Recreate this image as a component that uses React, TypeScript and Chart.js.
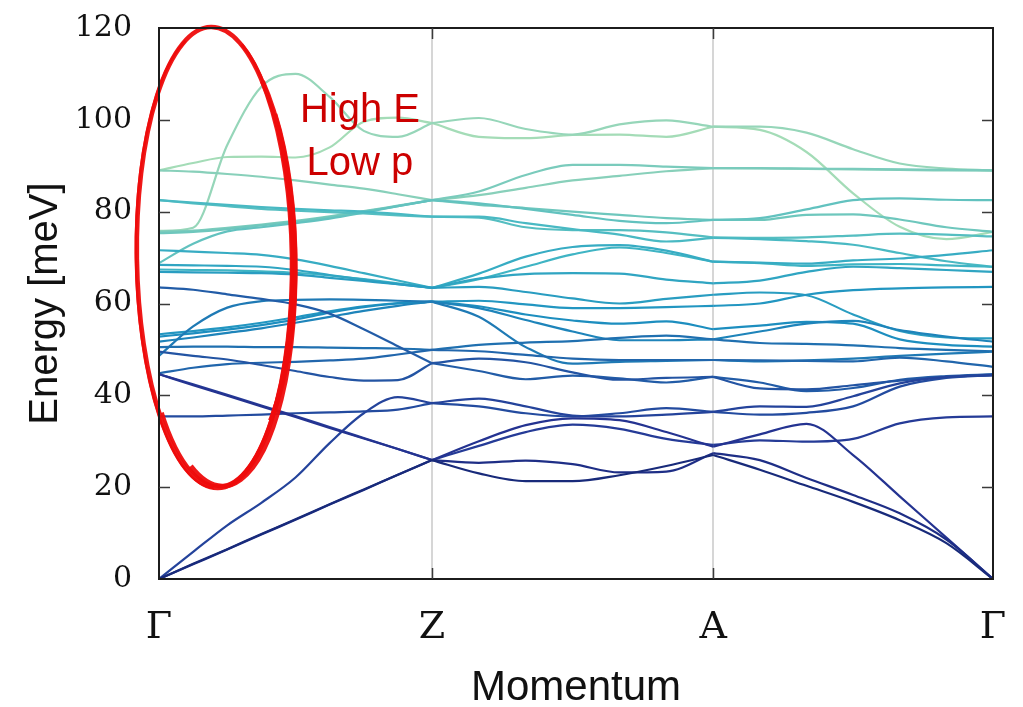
import React, { useEffect, useRef } from "react";
import { Chart, registerables } from "chart.js";

Chart.register(...registerables);

// Path coordinate (Γ → Z → A → Γ), sampled grid shared by all bands
const kGrid = [
  0, 0.125, 0.25, 0.375, 0.5, 0.625, 0.75, 0.875, 1.0,
  1.1717, 1.3433, 1.515, 1.6867, 1.8583, 2.03,
  2.2008, 2.3717, 2.5425, 2.7133, 2.8842, 3.055,
];
const tickPositions = [0, 1.0, 2.03, 3.055];
const tickLabels = ["Γ", "Z", "A", "Γ"];
const yMin = 0;
const yMax = 120;
const yStep = 20;

// Energies in meV at kGrid (index 8 = Z, index 14 = A)
const band01 = [0, 3.3, 6.5, 9.8, 13.0, 16.3, 19.5, 22.7, 25.9, 23.0, 21.3, 21.3, 22.6, 24.6, 27.0, 23.8, 20.3, 16.8, 12.8, 7.8, 0];
const band02 = [0, 3.2, 6.4, 9.7, 12.9, 16.2, 19.4, 22.7, 25.9, 25.3, 25.8, 25.0, 23.2, 23.4, 27.4, 25.9, 22.0, 18.3, 14.3, 8.6, 0];
const band03 = [44.6, 42.2, 39.9, 37.6, 35.3, 32.9, 30.6, 28.3, 25.9, 30.0, 33.5, 35.0, 34.6, 32.0, 28.8, 31.5, 33.8, 27.0, 18.0, 9.0, 0];
const band04 = [44.6, 42.4, 40.1, 37.8, 35.5, 33.1, 30.7, 28.3, 25.9, 29.0, 32.0, 33.6, 32.7, 30.5, 29.2, 30.2, 29.9, 30.5, 33.9, 35.2, 35.4];
const band05 = [0, 5.9, 11.7, 16.6, 22.1, 29.6, 36.1, 39.6, 38.3, 39.3, 37.6, 35.6, 35.4, 35.8, 36.4, 37.6, 37.5, 39.8, 42.6, 44.0, 44.4];
const band06 = [35.4, 35.4, 35.6, 35.8, 36.1, 36.3, 36.5, 36.9, 38.3, 37.6, 36.1, 35.4, 36.1, 37.2, 36.4, 35.8, 36.2, 37.6, 41.9, 43.8, 44.4];
const band07 = [49.5, 48.6, 47.8, 46.6, 45.3, 44.0, 43.2, 43.3, 47.0, 48.0, 47.2, 45.0, 43.4, 43.8, 44.0, 41.5, 41.3, 42.2, 43.2, 44.0, 44.4];
const band08 = [63.5, 63.0, 62.0, 61.0, 59.8, 57.8, 54.4, 50.7, 47.0, 45.3, 43.5, 44.3, 43.7, 42.8, 44.0, 42.8, 40.9, 41.6, 43.4, 44.2, 44.6];
const band09 = [44.8, 46.0, 46.8, 47.1, 47.3, 47.6, 48.0, 48.9, 49.9, 49.6, 48.8, 48.0, 47.7, 47.7, 47.7, 47.6, 47.5, 47.4, 48.2, 47.4, 46.2];
const band10 = [50.5, 50.6, 50.6, 50.5, 50.5, 50.4, 50.3, 50.2, 49.9, 51.0, 51.5, 51.8, 52.5, 53.0, 52.2, 51.4, 51.2, 50.9, 50.3, 49.9, 49.6];
const band11 = [48.6, 55.0, 59.1, 60.5, 60.8, 60.9, 60.8, 60.6, 60.4, 57.1, 50.5, 46.9, 47.3, 47.5, 47.7, 47.4, 47.6, 48.0, 48.6, 49.1, 49.5];
const band12 = [51.7, 52.6, 53.6, 54.6, 55.8, 57.1, 58.4, 59.5, 60.4, 59.0, 56.4, 53.9, 52.0, 52.0, 52.2, 53.9, 55.6, 56.2, 54.2, 52.8, 51.7];
const band13 = [52.8, 53.5, 54.3, 55.3, 56.5, 58.0, 59.2, 60.0, 60.4, 59.4, 57.6, 56.3, 55.6, 56.1, 54.4, 55.2, 56.0, 55.6, 52.2, 51.0, 50.6];
const band14 = [53.3, 54.0, 54.8, 55.8, 57.0, 58.3, 59.4, 60.1, 60.4, 60.6, 59.8, 59.0, 59.0, 59.2, 59.5, 60.0, 61.9, 62.9, 63.3, 63.5, 63.6];
const band15 = [66.9, 66.8, 66.7, 66.6, 66.3, 65.6, 64.9, 64.2, 63.4, 63.6, 62.5, 61.1, 60.0, 61.0, 61.9, 62.4, 61.8, 57.6, 54.0, 52.6, 52.4];
const band16 = [68.4, 68.3, 68.2, 68.0, 67.3, 66.2, 65.2, 64.2, 63.4, 65.4, 66.4, 66.6, 66.5, 65.2, 64.4, 65.0, 66.9, 68.0, 67.7, 67.3, 66.9];
const band17 = [71.6, 71.3, 71.0, 70.6, 69.6, 68.2, 66.6, 65.0, 63.4, 66.5, 70.2, 72.3, 72.7, 71.5, 69.1, 68.9, 68.7, 69.4, 69.8, 70.6, 71.6];
const band18 = [67.4, 67.3, 67.2, 67.0, 66.7, 66.1, 65.3, 64.4, 63.4, 65.3, 68.0, 70.7, 72.2, 71.0, 69.1, 68.8, 68.2, 68.5, 68.6, 68.3, 68.0];
const band19 = [82.5, 82.0, 81.5, 81.0, 80.6, 80.3, 80.0, 79.5, 78.9, 78.9, 77.5, 76.2, 75.0, 73.5, 74.3, 74.0, 73.6, 72.8, 71.0, 69.2, 68.0];
const band20 = [82.5, 81.8, 81.2, 80.6, 80.2, 79.9, 79.6, 79.2, 78.9, 78.7, 76.6, 76.0, 76.0, 75.5, 74.4, 74.3, 74.4, 74.8, 75.2, 75.0, 74.6];
const band21 = [68.8, 73.0, 75.7, 76.6, 77.5, 78.5, 79.8, 81.2, 82.5, 81.8, 80.6, 79.3, 78.0, 77.5, 78.2, 78.6, 80.5, 82.5, 82.9, 82.6, 82.5];
const band22 = [75.3, 75.6, 76.2, 77.0, 77.8, 78.8, 80.0, 81.2, 82.5, 81.5, 80.8, 80.0, 79.3, 78.6, 78.2, 78.2, 79.3, 79.4, 78.3, 76.6, 75.6];
const band23 = [75.6, 75.9, 76.5, 77.2, 78.0, 79.0, 80.1, 81.3, 82.5, 84.4, 88.0, 90.2, 90.2, 89.8, 89.5, 89.5, 89.4, 89.3, 89.2, 89.1, 89.0];
const band24 = [89.0, 88.7, 88.2, 87.6, 86.8, 85.9, 85.0, 83.8, 82.5, 83.6, 85.2, 86.8, 87.8, 88.8, 89.5, 89.4, 89.3, 89.2, 89.1, 89.0, 89.0];
const band25 = [75.8, 76.5, 94.5, 107.2, 110.0, 105.0, 97.6, 96.3, 99.3, 100.4, 98.0, 96.8, 99.0, 99.9, 98.5, 98.5, 97.2, 93.6, 90.5, 89.4, 89.0];
const band26 = [89.0, 90.6, 91.9, 92.0, 91.8, 94.0, 99.6, 100.5, 99.3, 96.3, 96.0, 96.7, 96.8, 96.3, 98.5, 97.8, 93.0, 84.0, 76.7, 74.0, 75.6];

const bands = [
  band01, band02, band03, band04, band05, band06, band07, band08, band09, band10,
  band11, band12, band13, band14, band15, band16, band17, band18, band19, band20,
  band21, band22, band23, band24, band25, band26,
];
// path segments as index ranges into kGrid: Γ-Z, Z-A, A-Γ
const segments = [[0, 8], [8, 14], [14, 20]];

// Annotation (hand-drawn ellipse + text), in data units
const ellipseCenter = [0.203, 70.0];
const ellipseHalfK = 0.284;
const ellipseHalfE = 50.2;
const noteLines = ["High E", "Low p"];
const noteK = 0.736;
const noteE = [99.5, 88.0];

const ylgnbu = ["#ffffd9", "#edf8b1", "#c7e9b4", "#7fcdbb", "#41b6c4", "#1d91c0", "#225ea8", "#253494", "#081d58"];

function hexToRgb(h: string) {
  const n = parseInt(h.slice(1), 16);
  return [(n >> 16) & 255, (n >> 8) & 255, n & 255];
}
function cmap(t: number) {
  const n = ylgnbu.length - 1;
  const p = Math.max(0, Math.min(1, t)) * n;
  const i = Math.min(n - 1, Math.floor(p));
  const f = p - i;
  const a = hexToRgb(ylgnbu[i]);
  const b = hexToRgb(ylgnbu[i + 1]);
  const c = a.map((v, j) => Math.round(v + (b[j] - v) * f));
  return `rgb(${c[0]},${c[1]},${c[2]})`;
}

const overlayPlugin = {
  id: "overlay",
  afterDatasetsDraw(chart: any) {
    const { ctx, chartArea, scales } = chart;
    const { left, right, top, bottom } = chartArea;
    const x = scales.x;
    const y = scales.y;
    ctx.save();

    // red hand-drawn ellipse (several overlapping strokes)
    const cx = x.getPixelForValue(ellipseCenter[0]);
    const cy = y.getPixelForValue(ellipseCenter[1]);
    const rx = x.getPixelForValue(ellipseCenter[0] + ellipseHalfK) - cx;
    const ry = cy - y.getPixelForValue(ellipseCenter[1] + ellipseHalfE);
    ctx.strokeStyle = "rgba(238,12,12,0.95)";
    ctx.lineWidth = 4.5;
    ctx.beginPath();
    ctx.ellipse(cx, cy, rx, ry, -0.015, 0, Math.PI * 2);
    ctx.stroke();
    ctx.lineWidth = 5;
    ctx.beginPath();
    ctx.ellipse(cx + 4, cy + 2, rx - 1, ry - 4, -0.02, -0.9, 2.0);
    ctx.stroke();
    ctx.lineWidth = 5;
    ctx.beginPath();
    ctx.ellipse(cx + 7, cy - 4, rx - 4, ry - 16, -0.02, -0.7, 0.9);
    ctx.stroke();
    ctx.lineWidth = 3;
    ctx.beginPath();
    ctx.ellipse(cx + 2, cy, rx - 2, ry - 2, -0.01, -1.2, 2.4);
    ctx.stroke();
    ctx.lineWidth = 2.5;
    ctx.beginPath();
    ctx.ellipse(cx - 2, cy + 1, rx - 1, ry - 1, -0.015, 1.6, 4.4);
    ctx.stroke();

    // annotation text
    ctx.fillStyle = "#cc0000";
    ctx.font = '40px "Liberation Sans", Arial, sans-serif';
    ctx.textAlign = "center";
    ctx.textBaseline = "alphabetic";
    const tx = x.getPixelForValue(noteK);
    noteLines.forEach((s, i) => ctx.fillText(s, tx, y.getPixelForValue(noteE[i])));

    // frame
    ctx.strokeStyle = "#1c1c1c";
    ctx.lineWidth = 2;
    ctx.strokeRect(left, top, right - left, bottom - top);

    // inward ticks
    ctx.strokeStyle = "#3a3a3a";
    ctx.lineWidth = 1.5;
    ctx.beginPath();
    for (let v = yMin + yStep; v < yMax; v += yStep) {
      const py = Math.round(y.getPixelForValue(v)) + 0.5;
      ctx.moveTo(left, py);
      ctx.lineTo(left + 11, py);
      ctx.moveTo(right, py);
      ctx.lineTo(right - 11, py);
    }
    tickPositions.slice(1, -1).forEach((k) => {
      const px = Math.round(x.getPixelForValue(k)) + 0.5;
      ctx.moveTo(px, top);
      ctx.lineTo(px, top + 11);
      ctx.moveTo(px, bottom);
      ctx.lineTo(px, bottom - 11);
    });
    ctx.stroke();
    ctx.restore();
  },
};

export default function App() {
  const canvasRef = useRef<HTMLCanvasElement | null>(null);

  useEffect(() => {
    document.body.style.margin = "0";
    const canvas = canvasRef.current;
    if (!canvas) return;

    const n = bands.length;
    const datasets: any[] = [];
    bands.forEach((band, bi) => {
      const color = cmap(0.93 - (bi / (n - 1)) * 0.62);
      segments.forEach(([s, e]) => {
        const pts = [];
        for (let i = s; i <= e; i++) pts.push({ x: kGrid[i], y: band[i] });
        datasets.push({
          data: pts,
          borderColor: color,
          borderWidth: 2.2,
          pointRadius: 0,
          fill: false,
          cubicInterpolationMode: "monotone",
        });
      });
    });

    const chart = new Chart(canvas, {
      type: "line",
      data: { datasets },
      options: {
        animation: false,
        responsive: false,
        devicePixelRatio: 1,
        events: [],
        layout: { padding: { top: 28, right: 30, left: 0, bottom: 0 } },
        plugins: { legend: { display: false }, tooltip: { enabled: false } },
        scales: {
          x: {
            type: "linear",
            min: tickPositions[0],
            max: tickPositions[tickPositions.length - 1],
            afterBuildTicks: (s: any) => {
              s.ticks = tickPositions.map((v) => ({ value: v }));
            },
            afterFit: (s: any) => {
              s.height = 128;
              s.paddingLeft = 0;
              s.paddingRight = 0;
            },
            ticks: {
              autoSkip: false,
              maxRotation: 0,
              padding: 26,
              color: "#111",
              font: { family: "DejaVu Serif", size: 38 },
              callback: (_v: any, i: number) => tickLabels[i],
            },
            grid: {
              drawTicks: false,
              lineWidth: 2,
              color: (c: any) => (c.index === 1 || c.index === 2 ? "#d6d6d6" : "rgba(0,0,0,0)"),
            },
            border: { display: false },
            title: {
              display: true,
              text: "Momentum",
              color: "#111",
              font: { family: "Liberation Sans", size: 42, lineHeight: 1 },
              padding: { top: 0, bottom: -2 },
            },
          },
          y: {
            type: "linear",
            min: yMin,
            max: yMax,
            afterFit: (s: any) => {
              s.width = 159;
              s.paddingTop = 0;
              s.paddingBottom = 0;
            },
            ticks: {
              stepSize: yStep,
              padding: 27,
              color: "#111",
              font: { family: "DejaVu Serif", size: 30 },
            },
            grid: { display: false, drawTicks: false },
            border: { display: false },
            title: {
              display: true,
              text: "Energy [meV]",
              color: "#111",
              font: { family: "Liberation Sans", size: 40, lineHeight: 1 },
              padding: { top: 26, bottom: 0 },
            },
          },
        },
      },
      plugins: [overlayPlugin],
    });

    return () => chart.destroy();
  }, []);

  return (
    <div style={{ width: 1023, height: 707 }}>
      <canvas ref={canvasRef} width={1023} height={707} style={{ display: "block" }} />
    </div>
  );
}
